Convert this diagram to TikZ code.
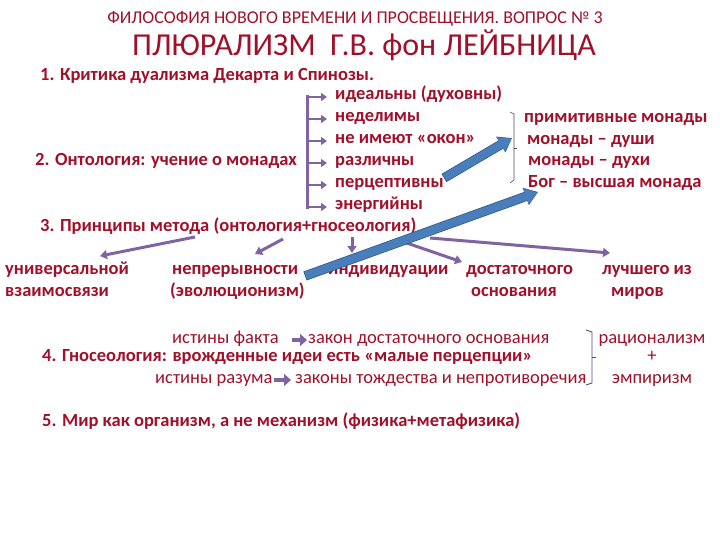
\documentclass[tikz,border=0pt]{standalone}
\usepackage{fontspec}
\setmainfont{Carlito}
\usetikzlibrary{arrows.meta}
\definecolor{tred}{HTML}{A0102A}
\definecolor{purp}{HTML}{8064A2}
\definecolor{bblue}{HTML}{4A7EBB}
\definecolor{bdark}{HTML}{2C5A8C}
\begin{document}
\begin{tikzpicture}[x=1pt,y=-1pt,
  t/.style={text=tred,inner sep=0pt,anchor=west,text height=9pt,text depth=3pt,font=\fontsize{18.5}{18}\selectfont},
  tb/.style={t,font=\fontsize{18.5}{18}\selectfont\bfseries},
  pa/.style={draw=purp,line width=3pt,-{Triangle[length=7pt,width=9pt]}},
  ba/.style={draw=bblue,line width=8pt,-{Triangle[length=12pt,width=16pt]}}]
\useasboundingbox (0,0) rectangle (720,540);
\node[t,anchor=center,font=\fontsize{18}{18}\selectfont] (h1) at (355,21) {ФИЛОСОФИЯ НОВОГО ВРЕМЕНИ И ПРОСВЕЩЕНИЯ. ВОПРОС № 3};
\node[t,anchor=center,text height=16pt,text depth=4pt,font=\fontsize{32}{32}\selectfont] (h2) at (364,50) {ПЛЮРАЛИЗМ \ Г.В. фон ЛЕЙБНИЦА};
\node[tb] (p1) at (40,78) {1. Критика дуализма Декарта и Спинозы.};
\node[tb] (p2) at (35,163) {2. Онтология: учение о монадах};
\coordinate (bt) at (307,95); \coordinate (bb) at (307,209);
\draw[purp,line width=3pt] (bt) -- (bb);
\foreach \y/\s/\n in {97/{идеальны (духовны)}/a1,119/{неделимы}/a2,141/{не имеют «окон»}/a3,163/{различны}/a4,185/{перцептивны}/a5,207/{энергийны}/a6}{
  \node[tb] (\n) at (335,\y) {\s};
  \coordinate (s\n) at (307,\y);
  \draw[purp,line width=2.5pt,-{Triangle[length=6pt,width=8pt]}] (s\n) -- ([xshift=-8pt]\n.west);
}
\node[tb] (r1) at (524,120) {примитивные монады};
\node[tb] (r2) at (527,142) {монады – души};
\node[tb] (r3) at (528,163) {монады – духи};
\node[tb] (r4) at (528,185) {Бог – высшая монада};
\draw[black!70,line width=0.6pt] (510,112) -- (514,114) -- (514,180) -- (510,183);
\draw[black!70,line width=0.6pt] (514,148) -- (517,148);
\node[tb] (p3) at (40,229) {3. Принципы метода (онтология+гносеология)};
\node[tb] (c1) at (5,271) {универсальной};
\node[tb] (c1b) at (5,293) {взаимосвязи};
\node[tb] (c2) at (172,271) {непрерывности};
\node[tb] (c2b) at (170,293) {(эволюционизм)};
\node[tb] (c3) at (328,271) {индивидуации};
\node[tb] (c4) at (466,271) {достаточного};
\node[tb] (c4b) at (471,293) {основания};
\node[tb] (c5) at (602,271) {лучшего из};
\node[tb] (c5b) at (611,293) {миров};
\coordinate (o1) at (195,237); \coordinate (e1) at (100,256);
\coordinate (o2) at (283,239); \coordinate (e2) at (255,254);
\coordinate (o3) at (352,237); \coordinate (e3) at (352,253);
\coordinate (o4) at (398,240); \coordinate (e4) at (462,262);
\coordinate (o5) at (430,238); \coordinate (e5) at (610,253);
\foreach \i in {1,...,5}{\draw[pa] (o\i) -- (e\i);}
\coordinate (u1) at (444,178); \coordinate (v1) at (512,138);
\coordinate (u2) at (305,276); \coordinate (v2) at (538,192);
\foreach \i in {1,2}{
 \draw[draw=bdark,line width=9.5pt,-{Triangle[length=13pt,width=17.5pt]}] (u\i) -- (v\i);
 \draw[ba,shorten >=0.8pt,shorten <=0.8pt] (u\i) -- (v\i);}
\node[t] (f1) at (172,340) {истины факта};
\node[t] (f2) at (308,340) {закон достаточного основания};
\coordinate (f1e) at (292,340);
\draw[purp,line width=4.5pt,-{Triangle[length=7pt,width=12pt]}] (f1e) -- ([xshift=-1pt]f2.west);
\node[tb] (p4) at (42,358) {4. Гносеология: врожденные идеи есть «малые перцепции»};
\node[t] (g1) at (155,380) {истины разума};
\node[t] (g2) at (295,380) {законы тождества и непротиворечия};
\coordinate (g1e) at (274,380);
\draw[purp,line width=4.5pt,-{Triangle[length=7pt,width=12pt]}] (g1e) -- ([xshift=-4pt]g2.west);
\draw[purp!70!black,line width=0.8pt] (586,330) -- (592,332) -- (592,383) -- (586,385);
\draw[purp!70!black,line width=1pt] (592,357) -- (596,357);
\node[t,anchor=center] (z1) at (652,340) {рационализм};
\node[t,anchor=center] (z2) at (652,358) {+};
\node[t,anchor=center] (z3) at (652,380) {эмпиризм};
\node[tb] (p5) at (42,423) {5. Мир как организм, а не механизм (физика+метафизика)};
\end{tikzpicture}
\end{document}
